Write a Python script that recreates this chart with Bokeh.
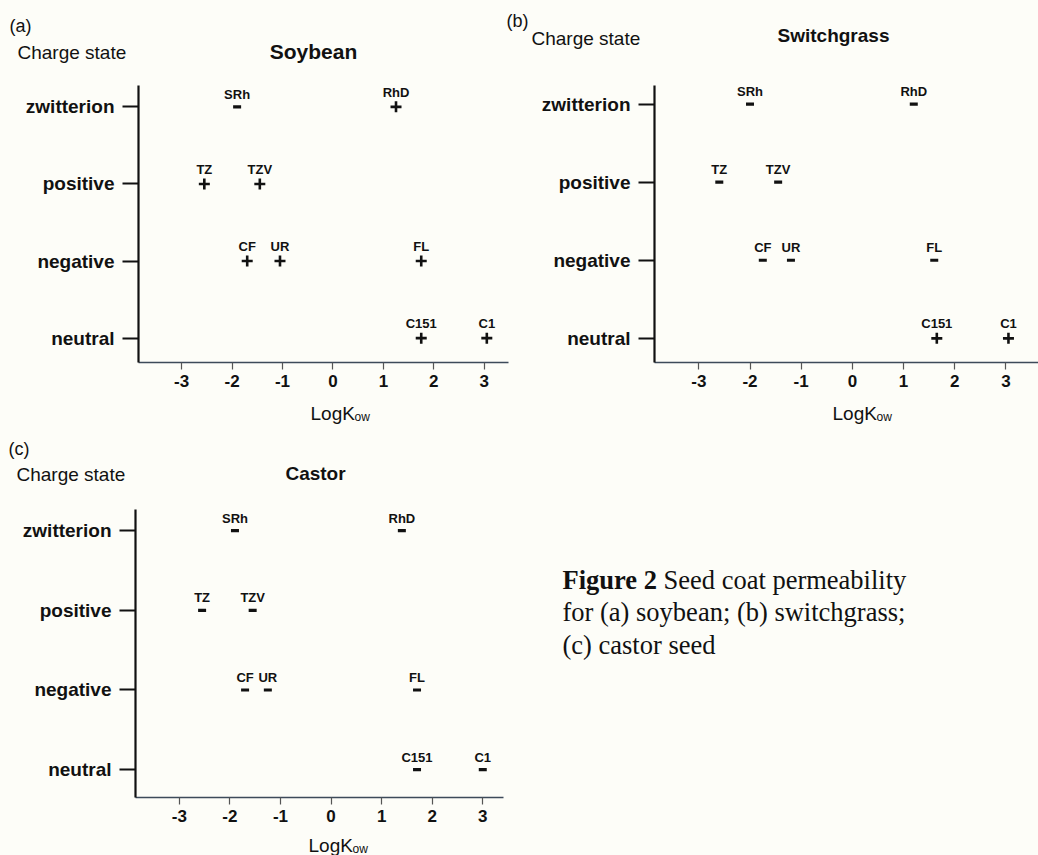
from bokeh.plotting import figure
from bokeh.models import ColumnDataSource, Range1d, FixedTicker, Label
from bokeh.layouts import row, column
from bokeh.embed import file_html
from bokeh.resources import INLINE
from bokeh.core.properties import value

# ---------------- data ----------------
compounds = ["SRh", "RhD", "TZ", "TZV", "CF", "UR", "FL", "C151", "C1"]
charge_state = ["zwitterion", "zwitterion", "positive", "positive",
                "negative", "negative", "negative", "neutral", "neutral"]
charge_levels = ["neutral", "negative", "positive", "zwitterion"]
x_ticks = [-3, -2, -1, 0, 1, 2, 3]

soybean_logkow = [-1.9, 1.25, -2.55, -1.45, -1.7, -1.05, 1.75, 1.75, 3.05]
soybean_effect = ["-", "+", "+", "+", "+", "+", "+", "+", "+"]

switchgrass_logkow = [-2.0, 1.2, -2.6, -1.45, -1.75, -1.2, 1.6, 1.65, 3.05]
switchgrass_effect = ["-", "-", "-", "-", "-", "-", "-", "+", "+"]

castor_logkow = [-1.9, 1.4, -2.55, -1.55, -1.7, -1.25, 1.7, 1.7, 3.0]
castor_effect = ["-", "-", "-", "-", "-", "-", "-", "-", "-"]

panel_tags = ["(a)", "(b)", "(c)"]
panel_titles = ["Soybean", "Switchgrass", "Castor"]
y_title = "Charge state"
x_title_main = "LogK"
x_title_sub = "ow"
caption_bold = "Figure 2"
caption_lines = ["Seed coat permeability",
                 "for (a) soybean; (b) switchgrass;",
                 "(c) castor seed"]

# ---------------- style ----------------
BG = "#fdfdf8"
INK = "#111111"
SANS = "Liberation Sans"
SERIF = "Liberation Serif"


def base_fig(W, H, **kw):
    return figure(width=W, height=H, output_backend="svg", toolbar_location=None,
                  title=None, background_fill_color=BG, border_fill_color=BG,
                  outline_line_color=None, **kw)


def text_fig(ox, oy, W, H, items, bottom=0):
    """A bare figure; its frame spans page pixels ox..ox+W, oy..oy+H-bottom."""
    p = base_fig(W, H, x_range=Range1d(ox, ox + W), y_range=Range1d(oy + H - bottom, oy),
                 x_axis_location=None, y_axis_location=None,
                 min_border_left=0, min_border_right=0,
                 min_border_top=0, min_border_bottom=bottom)
    p.grid.visible = False
    for (txt, px, py, size, style, align, font) in items:
        p.add_layout(Label(x=px, y=py, text=txt, text_font=font,
                           text_font_size=size, text_font_style=style,
                           text_align=align, text_baseline="middle",
                           text_color=INK))
    return p


def plot_fig(logkow, effect, origin, W, H, frame, xr, yr):
    ox, oy = origin
    L, T, R, B = frame
    p = base_fig(W, H, x_range=Range1d(*xr), y_range=Range1d(*yr),
                 min_border_left=L - ox, min_border_top=T - oy,
                 min_border_right=ox + W - R, min_border_bottom=oy + H - B)
    p.xgrid.visible = False
    p.ygrid.visible = False

    # x axis
    p.xaxis.ticker = FixedTicker(ticks=x_ticks)
    p.xaxis.major_label_overrides = {t: str(t) for t in x_ticks}
    p.xaxis.axis_line_color = "#3d4a5a"
    p.xaxis.axis_line_width = 1.6
    p.xaxis.major_tick_in = 0
    p.xaxis.major_tick_out = 7
    p.xaxis.major_tick_line_color = "#555555"
    p.xaxis.major_tick_line_width = 1.2
    p.xaxis.minor_tick_line_color = None
    p.xaxis.major_label_text_font = SANS
    p.xaxis.major_label_text_font_style = "bold"
    p.xaxis.major_label_text_font_size = "17px"
    p.xaxis.major_label_text_color = INK
    p.xaxis.major_label_standoff = 5

    # y axis
    p.yaxis.ticker = FixedTicker(ticks=list(range(len(charge_levels))))
    p.yaxis.major_label_overrides = {i: lvl for i, lvl in enumerate(charge_levels)}
    p.yaxis.axis_line_color = INK
    p.yaxis.axis_line_width = 2.2
    p.yaxis.major_tick_in = 0
    p.yaxis.major_tick_out = 16
    p.yaxis.major_tick_line_color = INK
    p.yaxis.major_tick_line_width = 2
    p.yaxis.minor_tick_line_color = None
    p.yaxis.major_label_text_font = SANS
    p.yaxis.major_label_text_font_style = "bold"
    p.yaxis.major_label_text_font_size = "19px"
    p.yaxis.major_label_text_color = INK
    p.yaxis.major_label_standoff = 8

    ys = [charge_levels.index(c) for c in charge_state]
    markers = ["cross" if e == "+" else "dash" for e in effect]
    sizes = [11 if e == "+" else 8 for e in effect]
    lws = [2.6 if e == "+" else 3.2 for e in effect]
    yoffs = [-7 if e == "+" else -5 for e in effect]
    src = ColumnDataSource(dict(x=logkow, y=ys, name=compounds, marker=markers,
                                size=sizes, lw=lws, yoff=yoffs))
    p.scatter(x="x", y="y", marker="marker", size="size", line_width="lw",
              line_color=INK, fill_color=INK, source=src)
    p.text(x="x", y="y", text="name", source=src, y_offset="yoff",
           text_font=value(SANS), text_font_style="bold", text_font_size="13px",
           text_align="center", text_baseline="bottom", text_color=INK)
    return p


def head_items(tag, tag_xy, cs_xy, title, title_xy, title_size):
    return [
        (tag, tag_xy[0], tag_xy[1], "18px", "normal", "left", SANS),
        (y_title, cs_xy[0], cs_xy[1], "19px", "normal", "left", SANS),
        (title, title_xy[0], title_xy[1], title_size, "bold", "center", SANS),
    ]


def logk_items(x, ymid):
    return [
        (x_title_main, x, ymid, "19px", "normal", "left", SANS),
        (x_title_sub, x + 44, ymid + 3, "12px", "normal", "left", SANS),
    ]


# band 1: tags and titles of (a), (b)   page y 0..73
band_top = text_fig(0, 0, 1038, 73,
                    head_items(panel_tags[0], (9, 25), (17, 52), panel_titles[0], (313, 51), "21px")
                    + head_items(panel_tags[1], (506, 20), (531, 38), panel_titles[1], (833, 35), "19px"))

# plots (a) and (b)   page y 73..400
pa = plot_fig(soybean_logkow, soybean_effect, origin=(0, 73), W=518, H=327,
              frame=(138, 85, 508, 362), xr=(-3.855, 3.48), yr=(-0.316, 3.277))
pb = plot_fig(switchgrass_logkow, switchgrass_effect, origin=(518, 73), W=520, H=327,
              frame=(654, 73, 1038, 363), xr=(-3.866, 3.637), yr=(-0.309, 3.238))

# band 2: x titles of (a), (b); tag and title of (c)   page y 400..509
band_mid = text_fig(0, 400, 1038, 109,
                    logk_items(310, 413) + logk_items(832, 413)
                    + head_items(panel_tags[2], (8, 448), (16, 474), panel_titles[2], (315, 473), "19px"))

# plot (c) and caption   page y 509..836 (caption frame matches plot (c) frame: 509..797)
pc = plot_fig(castor_logkow, castor_effect, origin=(0, 509), W=518, H=327,
              frame=(135, 509, 503, 797), xr=(-3.867, 3.41), yr=(-0.350, 3.266))
caption = text_fig(518, 509, 520, 327, [
    (caption_bold, 562, 579, "26.5px", "bold", "left", SERIF),
    (caption_lines[0], 663, 579, "26.5px", "normal", "left", SERIF),
    (caption_lines[1], 562, 611, "26.5px", "normal", "left", SERIF),
    (caption_lines[2], 562, 644, "26.5px", "normal", "left", SERIF),
], bottom=39)

# band 3: x title of (c)   page y 836..855
band_bot = text_fig(0, 836, 1038, 19, logk_items(308, 845))

layout = column(
    band_top,
    row(pa, pb, spacing=0),
    band_mid,
    row(pc, caption, spacing=0),
    band_bot,
    spacing=0,
)
layout.styles = {"background-color": BG}

open("out.html", "w").write(file_html(layout, INLINE, title="Seed coat permeability"))
